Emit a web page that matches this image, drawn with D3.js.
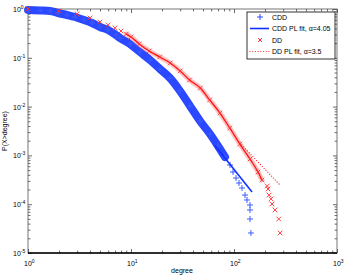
<!DOCTYPE html>
<html>
<head>
  <meta charset="utf-8">
  <script src="https://cdn.jsdelivr.net/npm/d3@7"></script>
  <style>
    body { margin: 0; background: #fff; }
    text { font-family: "Liberation Sans", Arial, sans-serif; fill: #000; }
  </style>
</head>
<body>
<svg id="chart" width="346" height="276"></svg>
<script>
  // data (CCDF, log-log)
  var cddDegree = [1, 1.31, 1.64, 1.96, 2.39, 2.86, 3.5, 4.18, 5, 5.98, 7.15, 7.82, 9.78, 12.2, 15.3, 19.1, 23.9, 29.9, 37.4, 46.8, 58.5, 69.9, 81.8, 91.5, 97.8, 104.6, 111.8, 119.6, 127.9, 133.7, 143, 143, 143, 146];
  var cddP = [0.954, 0.932, 0.91, 0.828, 0.754, 0.686, 0.595, 0.517, 0.428, 0.371, 0.293, 0.254, 0.192, 0.1315, 0.0901, 0.059, 0.0385, 0.0209, 0.0103, 0.00507, 0.00274, 0.00156, 0.000927, 0.000635, 0.000457, 0.000344, 0.000272, 0.000215, 0.000154, 0.000122, 0.0000963, 0.0000761, 0.0000498, 0.0000257];

  var ddDegree = [1, 2, 3, 4, 5, 6, 7, 8, 9, 10, 12, 15, 19, 24, 30, 37, 47, 58, 73, 91, 114, 143, 171, 187, 210, 214, 219, 229, 234, 250, 272, 280];
  var ddP = [1, 0.91, 0.79, 0.654, 0.54, 0.47, 0.41, 0.354, 0.307, 0.267, 0.192, 0.138, 0.104, 0.0782, 0.0537, 0.0351, 0.024, 0.0137, 0.00739, 0.00364, 0.00171, 0.000843, 0.000457, 0.000313, 0.000236, 0.000205, 0.000154, 0.000128, 0.000101, 0.0000761, 0.0000498, 0.0000257];

  // power-law fit lines (end points)
  var cddFitDegree = [65.4, 149.6];
  var cddFitP = [0.0016, 0.000178];
  var ddFitDegree = [114, 280];
  var ddFitP = [0.0018, 0.000247];

  var xExps = [0, 1, 2, 3];
  var yExps = [-5, -4, -3, -2, -1, 0];
  var legendLabels = ["CDD", "CDD PL fit, \u03b1=4.05", "DD", "DD PL fit, \u03b1=3.5"];

  //1. layout
  var plotL = 28, plotR = 337, plotT = 9, plotB = 253;
  var blue = "#2a48ff", red = "#ff1010";

  var svg = d3.select("#chart");

  var x = d3.scaleLog().domain([1, 1000]).range([plotL, plotR]);
  var y = d3.scaleLog().domain([1e-5, 1]).range([plotB, plotT]);

  //2. ticks (major decades + minor 2..9)
  function minorTicks(exps) {
    var out = [];
    exps.slice(0, -1).forEach(function(e) {
      for (var k = 2; k <= 9; k++) out.push(k * Math.pow(10, e));
    });
    return out;
  }
  var xMajor = xExps.map(function(e) { return Math.pow(10, e); });
  var yMajor = yExps.map(function(e) { return Math.pow(10, e); });

  function drawAxis(axisFn, scale, major, exps, transform, size) {
    var g = svg.append("g").attr("transform", transform);
    g.call(axisFn(scale).tickValues(minorTicks(exps)).tickSize(size * 0.6).tickFormat(""));
    g.append("g").call(axisFn(scale).tickValues(major).tickSize(size).tickFormat(""));
    g.selectAll(".domain").remove();
    g.selectAll("line").attr("stroke", "#444").attr("stroke-width", 0.8);
    return g;
  }

  drawAxis(d3.axisBottom, x, xMajor, xExps, "translate(0," + plotB + ")", -4);
  drawAxis(d3.axisTop, x, xMajor, xExps, "translate(0," + plotT + ")", -4);
  drawAxis(d3.axisLeft, y, yMajor, yExps, "translate(" + plotL + ",0)", -4);
  drawAxis(d3.axisRight, y, yMajor, yExps, "translate(" + plotR + ",0)", -4);

  // box
  svg.append("rect").attr("x", plotL).attr("y", plotT)
    .attr("width", plotR - plotL).attr("height", plotB - plotT)
    .attr("fill", "none").attr("stroke", "#555").attr("stroke-width", 0.8);
  svg.append("line").attr("x1", plotL).attr("x2", plotR)
    .attr("y1", plotB).attr("y2", plotB)
    .attr("stroke", "#000").attr("stroke-width", 1.5);

  //3. tick labels 10^n
  function powLabel(sel, e) {
    sel.append("tspan").text("10");
    sel.append("tspan").attr("dy", -3).attr("font-size", 5).text(e);
  }
  xExps.forEach(function(e) {
    var t = svg.append("text").attr("x", x(Math.pow(10, e)) - 4).attr("y", 266)
      .attr("font-size", 7);
    powLabel(t, e);
  });
  yExps.forEach(function(e) {
    var t = svg.append("text").attr("x", 13).attr("y", y(Math.pow(10, e)) + 3)
      .attr("font-size", 7);
    powLabel(t, e);
  });

  svg.append("text").attr("x", 182).attr("y", 273).attr("font-size", 7)
    .attr("text-anchor", "middle").text("degree");
  svg.append("text").attr("transform", "translate(7,131) rotate(-90)")
    .attr("font-size", 7).attr("text-anchor", "middle").text("P(X>degree)");

  //4. data
  var plot = svg.append("g");
  var cdd = cddDegree.map(function(d, i) { return [d, cddP[i]]; });
  var dd = ddDegree.map(function(d, i) { return [d, ddP[i]]; });

  var line = d3.line()
    .x(function(d) { return x(d[0]); })
    .y(function(d) { return y(d[1]); })
    .curve(d3.curveMonotoneX);

  // dense part of the markers (overlapping) drawn as a band
  plot.append("path").datum(cdd.filter(function(d) { return d[1] > 9e-4; }))
    .attr("d", line).attr("fill", "none").attr("stroke", blue)
    .attr("stroke-width", 8).attr("stroke-linecap", "round");

  var ddDense = dd.filter(function(d) { return d[0] >= 9 && d[1] > 2.5e-4; });
  plot.append("path").datum(ddDense)
    .attr("d", line).attr("fill", "none").attr("stroke", "#ff9a9a")
    .attr("stroke-width", 5).attr("stroke-linecap", "round").attr("opacity", 0.6);
  plot.append("path").datum(ddDense)
    .attr("d", line).attr("fill", "none").attr("stroke", red)
    .attr("stroke-width", 1.3);

  // + markers
  var ms = 3;
  plot.selectAll(".cdd").data(cdd).enter().append("path")
    .attr("d", function(d) {
      var cx = x(d[0]), cy = y(d[1]);
      return "M" + (cx - ms) + "," + cy + "H" + (cx + ms) + "M" + cx + "," + (cy - ms) + "V" + (cy + ms);
    })
    .attr("stroke", "#3d5cff").attr("stroke-width", 1).attr("fill", "none");

  // x markers
  var xs = 2.3;
  plot.selectAll(".dd").data(dd).enter().append("path")
    .attr("d", function(d) {
      var cx = x(d[0]), cy = y(d[1]);
      return "M" + (cx - xs) + "," + (cy - xs) + "L" + (cx + xs) + "," + (cy + xs) +
        "M" + (cx - xs) + "," + (cy + xs) + "L" + (cx + xs) + "," + (cy - xs);
    })
    .attr("stroke", "#ff3030").attr("stroke-width", 0.9).attr("fill", "none");

  // fit lines
  var straight = d3.line().x(function(d) { return x(d[0]); }).y(function(d) { return y(d[1]); });
  plot.append("path").datum(cddFitDegree.map(function(d, i) { return [d, cddFitP[i]]; }))
    .attr("d", straight).attr("stroke", "#1030ff").attr("stroke-width", 1.6).attr("fill", "none");
  plot.append("path").datum(ddFitDegree.map(function(d, i) { return [d, ddFitP[i]]; }))
    .attr("d", straight).attr("stroke", "#ff2a2a").attr("stroke-width", 1.2)
    .attr("stroke-linecap", "round").attr("stroke-dasharray", "0.1,2.6").attr("fill", "none");

  //5. legend
  var lg = svg.append("g").attr("transform", "translate(247,12)");
  lg.append("rect").attr("width", 88).attr("height", 47)
    .attr("fill", "#fff").attr("stroke", "#000").attr("stroke-width", 0.8);
  legendLabels.forEach(function(label, i) {
    var ly = 5 + i * 11.5;
    var row = lg.append("g").attr("transform", "translate(0," + ly + ")");
    if (i === 0) {
      row.append("path").attr("d", "M10,0H16M13,-3V3").attr("stroke", blue).attr("stroke-width", 1);
    } else if (i === 1) {
      row.append("line").attr("x1", 3).attr("x2", 22).attr("stroke", "#1030ff").attr("stroke-width", 1.6);
    } else if (i === 2) {
      row.append("path").attr("d", "M11,-2L15,2M11,2L15,-2").attr("stroke", red).attr("stroke-width", 0.9);
    } else {
      row.append("line").attr("x1", 3).attr("x2", 22).attr("stroke", "#ff2a2a")
        .attr("stroke-width", 1.2).attr("stroke-linecap", "round").attr("stroke-dasharray", "0.1,2.6");
    }
    row.append("text").attr("x", 25).attr("y", 2.5).attr("font-size", 7).text(label);
  });
</script>
</body>
</html>
